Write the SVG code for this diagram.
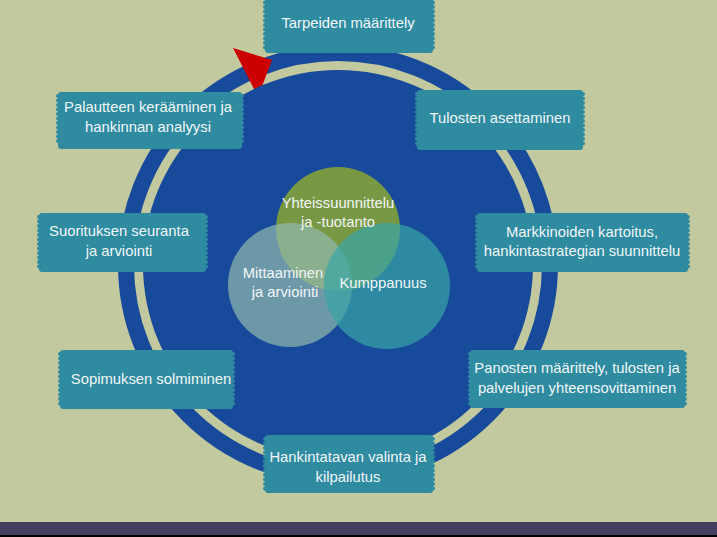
<svg xmlns="http://www.w3.org/2000/svg" width="717" height="537" viewBox="0 0 717 537">
  <style>
    .box { fill: #2e8ba0; }
    .teeth { fill: none; stroke: #2e8ba0; stroke-width: 4; stroke-linecap: round; stroke-dasharray: 0 4.5; }
    .lbl { font-family: "Liberation Sans", Arial, sans-serif; font-size: 14.8px; fill: #f2f6f8; text-anchor: middle; }
    .ring { fill: none; stroke: #184a9c; stroke-width: 16; }
    .disk { fill: #184a9c; }
  </style>
  <rect x="0" y="0" width="717" height="537" fill="#c2c99e"/>
  <rect x="0" y="522" width="717" height="13" fill="#443f5f"/>
  <rect x="0" y="535" width="717" height="2" fill="#000"/>

  <g id="connectors">
    <circle class="ring" cx="338" cy="265" r="212"/>
    <polygon points="233,48 272,60 258,97" fill="#cc0000"/>
  </g>

  <circle class="disk" cx="338" cy="265" r="195"/>

  <g id="venn-yhteissuunnittelu">
    <circle cx="338" cy="229" r="62" fill="#a3b91f" opacity="0.7"/>
  </g>
  <g id="venn-mittaaminen">
    <circle cx="290" cy="285" r="62" fill="#92b9ae" opacity="0.7"/>
  </g>
  <g id="venn-kumppanuus">
    <circle cx="387" cy="286" r="63" fill="#38a5a6" opacity="0.7"/>
  </g>
  <g id="venn-labels">
    <text class="lbl" x="338" y="208">Yhteissuunnittelu</text>
    <text class="lbl" x="338" y="227">ja -tuotanto</text>
    <text class="lbl" x="283" y="278">Mittaaminen</text>
    <text class="lbl" x="285" y="297">ja arviointi</text>
    <text class="lbl" x="383" y="288">Kumppanuus</text>
  </g>

  <g id="box-tarpeiden">
    <rect class="box" x="265" y="-5" width="168" height="58" rx="3"/>
    <line class="teeth" x1="265" y1="-2" x2="265" y2="50"/>
    <line class="teeth" x1="433" y1="-2" x2="433" y2="50"/>
    <text class="lbl" x="348" y="27.5">Tarpeiden määrittely</text>
  </g>

  <g id="box-palautteen">
    <rect class="box" x="58" y="92" width="184" height="57" rx="3"/>
    <line class="teeth" x1="58" y1="96" x2="58" y2="145"/>
    <line class="teeth" x1="242" y1="96" x2="242" y2="145"/>
    <text class="lbl" x="148" y="112">Palautteen kerääminen ja</text>
    <text class="lbl" x="148" y="132">hankinnan analyysi</text>
  </g>

  <g id="box-tulosten">
    <rect class="box" x="417" y="90" width="166" height="60" rx="3"/>
    <line class="teeth" x1="417" y1="94" x2="417" y2="146"/>
    <line class="teeth" x1="583" y1="94" x2="583" y2="146"/>
    <text class="lbl" x="500" y="123">Tulosten asettaminen</text>
  </g>

  <g id="box-suorituksen">
    <rect class="box" x="39" y="213" width="167" height="59" rx="3"/>
    <line class="teeth" x1="39" y1="217" x2="39" y2="268"/>
    <line class="teeth" x1="206" y1="217" x2="206" y2="268"/>
    <text class="lbl" x="119" y="236">Suorituksen seuranta</text>
    <text class="lbl" x="119" y="255.5">ja arviointi</text>
  </g>

  <g id="box-markkinoiden">
    <rect class="box" x="477" y="213" width="211" height="59" rx="3"/>
    <line class="teeth" x1="477" y1="217" x2="477" y2="268"/>
    <line class="teeth" x1="688" y1="217" x2="688" y2="268"/>
    <text class="lbl" x="582" y="236.5">Markkinoiden kartoitus,</text>
    <text class="lbl" x="582" y="256">hankintastrategian suunnittelu</text>
  </g>

  <g id="box-sopimuksen">
    <rect class="box" x="60" y="350" width="173" height="59" rx="3"/>
    <line class="teeth" x1="60" y1="354" x2="60" y2="405"/>
    <line class="teeth" x1="233" y1="354" x2="233" y2="405"/>
    <text class="lbl" x="151" y="384">Sopimuksen solmiminen</text>
  </g>

  <g id="box-panosten">
    <rect class="box" x="470" y="350" width="215" height="58" rx="3"/>
    <line class="teeth" x1="470" y1="354" x2="470" y2="404"/>
    <line class="teeth" x1="685" y1="354" x2="685" y2="404"/>
    <text class="lbl" x="577" y="373">Panosten määrittely, tulosten ja</text>
    <text class="lbl" x="577" y="393">palvelujen yhteensovittaminen</text>
  </g>

  <g id="box-hankintatavan">
    <rect class="box" x="265" y="435" width="168" height="58" rx="3"/>
    <line class="teeth" x1="265" y1="439" x2="265" y2="489"/>
    <line class="teeth" x1="433" y1="439" x2="433" y2="489"/>
    <text class="lbl" x="348" y="461.5">Hankintatavan valinta ja</text>
    <text class="lbl" x="348" y="481.5">kilpailutus</text>
  </g>
</svg>
